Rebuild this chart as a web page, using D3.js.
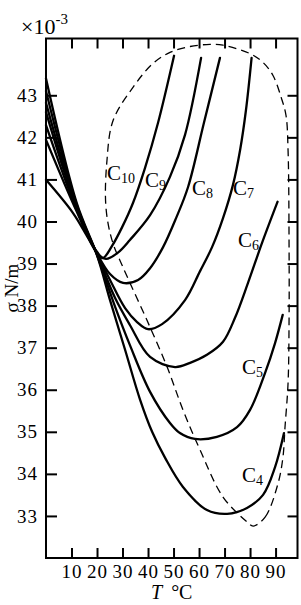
<!DOCTYPE html>
<html>
<head>
<meta charset="utf-8">
<script src="https://cdn.jsdelivr.net/npm/d3@7"></script>
<style>
  body { margin: 0; background: #fff; }
  text { font-family: "Liberation Serif", "DejaVu Serif", serif; fill: #000; }
</style>
</head>
<body>
<div id="chart"></div>
<script>
// tick values
var xTicks = [10, 20, 30, 40, 50, 60, 70, 80, 90];
var yTicks = [33, 34, 35, 36, 37, 38, 39, 40, 41, 42, 43];

// curves: [T (°C), sigma (x10^-3 N/m)]
var c4 = [[0, 43.40], [12, 40.45], [20, 39.20], [25.1, 38.13], [31.0, 36.95], [36.9, 35.76], [41.6, 35.00], [46.7, 34.38], [53.7, 33.69], [63.1, 33.14], [71.0, 33.05], [78.8, 33.19], [85.1, 33.50], [89.8, 34.16], [93.3, 34.97]];
var c5 = [[0, 43.10], [12, 40.40], [20, 39.20], [27.1, 37.97], [32.9, 37.06], [40.8, 35.95], [48.6, 35.21], [52.5, 34.97], [58.4, 34.83], [67.0, 34.88], [74.9, 35.11], [80.0, 35.52], [85.9, 36.40], [89.8, 37.11], [92.8, 37.78]];
var c6 = [[0, 42.82], [12, 40.36], [20, 39.22], [27.1, 38.18], [32.9, 37.54], [40.8, 36.78], [50.6, 36.54], [56.5, 36.64], [63.1, 36.83], [69.4, 37.14], [74.1, 37.71], [79.2, 38.54], [84.7, 39.49], [90.8, 40.47]];
var c7 = [[0, 42.60], [12, 40.32], [20, 39.23], [25.1, 38.61], [31.0, 37.94], [35.7, 37.61], [40.0, 37.44], [45.5, 37.56], [54.5, 38.13], [60.4, 38.82], [65.1, 39.39], [69.4, 40.08], [73.3, 40.87], [76.1, 41.70], [78.4, 42.65], [80.6, 43.89]];
var c8 = [[0, 42.29], [12, 40.28], [20, 39.24], [25.1, 38.75], [30.2, 38.54], [36.1, 38.61], [40.8, 38.89], [45.9, 39.39], [51.0, 40.08], [55.7, 40.82], [61.9, 42.34], [68.2, 43.89]];
var c9 = [[0, 41.94], [12, 40.24], [20, 39.25], [23.5, 39.11], [28.2, 39.26], [32.9, 39.56], [40.8, 40.15], [48.6, 41.06], [54.5, 42.06], [60.8, 43.89]];
var c10 = [[0, 40.99], [10.6, 40.20], [16.5, 39.61], [20, 39.28], [22.3, 39.13], [25.9, 39.42], [29.8, 39.86], [34.1, 40.44], [38.8, 41.27], [43.9, 42.34], [50.2, 43.94]];

// dashed envelope
var envelope = [[81.2, 32.76], [85.9, 32.97], [91.0, 33.78], [92.9, 34.40], [93.7, 35.11], [94.9, 36.16], [95.3, 37.72], [95.3, 39.32], [94.9, 41.69], [94.1, 42.52], [92.2, 42.95], [89.0, 43.47], [85.1, 43.78], [80.0, 43.99], [69.4, 44.19], [64.3, 44.21], [56.5, 44.16], [48.6, 44.02], [42.0, 43.76], [34.1, 43.19], [26.3, 42.40], [23.9, 41.45], [23.5, 40.34], [25.9, 39.55], [30.2, 38.91], [39.6, 37.65], [47.5, 36.54], [53.7, 35.52], [60.4, 34.57], [69.4, 33.45], [78.8, 32.86]];

var curveNames = ["4", "5", "6", "7", "8", "9", "10"];
var curves = [c4, c5, c6, c7, c8, c9, c10];
// label anchor for each curve (T, sigma)
var labelAt = [[76.8, 33.81], [76.8, 36.37], [75.3, 39.39], [73.3, 40.63], [57.2, 40.63], [38.8, 40.82], [23.9, 40.99]];

var W = 301, H = 605;
var svg = d3.select("#chart").append("svg")
    .attr("width", W)
    .attr("height", H);

var x = d3.scaleLinear().domain([0, 98.6]).range([46, 297.5]);
var y = d3.scaleLinear().domain([32, 44.35]).range([558, 38.5]);

// axes with inward ticks
svg.append("g")
    .attr("transform", "translate(0," + y(32) + ")")
    .call(d3.axisBottom(x).tickValues(xTicks).tickSize(-10).tickPadding(7));
svg.append("g")
    .attr("transform", "translate(" + x(0) + ",0)")
    .call(d3.axisLeft(y).tickValues(yTicks).tickSize(-11).tickPadding(8));
svg.append("g")
    .attr("transform", "translate(0," + y(44.35) + ")")
    .call(d3.axisTop(x).tickValues(xTicks).tickSize(-10).tickFormat(""));
svg.append("g")
    .attr("transform", "translate(" + x(98.6) + ",0)")
    .call(d3.axisRight(y).tickValues(yTicks).tickSize(-10).tickFormat(""));

svg.selectAll(".domain").remove();
svg.selectAll(".tick line").attr("stroke", "#000").attr("stroke-width", 2);
svg.selectAll(".tick text")
    .attr("font-family", "Liberation Serif")
    .attr("font-size", 19)
    .attr("letter-spacing", 1)
    .attr("fill", "#000");

// frame
svg.append("rect")
    .attr("x", x(0)).attr("y", y(44.35))
    .attr("width", x(98.6) - x(0))
    .attr("height", y(32) - y(44.35))
    .attr("fill", "none")
    .attr("stroke", "#000")
    .attr("stroke-width", 2);

var line = d3.line()
    .x(function (d) { return x(d[0]); })
    .y(function (d) { return y(d[1]); })
    .curve(d3.curveCatmullRom.alpha(0.5));

svg.append("path")
    .datum(envelope)
    .attr("d", d3.line()
        .x(function (d) { return x(d[0]); })
        .y(function (d) { return y(d[1]); })
        .curve(d3.curveCatmullRomClosed.alpha(0.5)))
    .attr("fill", "none")
    .attr("stroke", "#000")
    .attr("stroke-width", 1.3)
    .attr("stroke-dasharray", "8,5");

svg.selectAll(".curve")
    .data(curves)
    .enter()
    .append("path")
    .attr("class", "curve")
    .attr("d", line)
    .attr("fill", "none")
    .attr("stroke", "#000")
    .attr("stroke-width", 2.3)
    .attr("stroke-linejoin", "round")
    .attr("stroke-linecap", "round");

// curve labels C4..C10
var labels = svg.selectAll(".clabel")
    .data(curveNames)
    .enter()
    .append("text")
    .attr("class", "clabel")
    .attr("x", function (d, i) { return x(labelAt[i][0]); })
    .attr("y", function (d, i) { return y(labelAt[i][1]); })
    .attr("font-size", 21);
labels.append("tspan").text("C");
labels.append("tspan")
    .attr("font-size", 14)
    .attr("dy", 3)
    .text(function (d) { return d; });

// multiplier
var mult = svg.append("text")
    .attr("x", 21)
    .attr("y", 34)
    .attr("font-size", 22);
mult.append("tspan").text("×10");
mult.append("tspan").attr("font-size", 15).attr("dy", -10).text("-3");

// axis titles
var xt = svg.append("text")
    .attr("x", 151)
    .attr("y", 599)
    .attr("font-size", 20);
xt.append("tspan").attr("font-style", "italic").text("T");
xt.append("tspan").attr("dx", 9).text("°C");

svg.append("text")
    .attr("transform", "translate(18,288) rotate(-90)")
    .attr("text-anchor", "middle")
    .attr("font-size", 19)
    .text("σ N/m");
</script>
</body>
</html>
